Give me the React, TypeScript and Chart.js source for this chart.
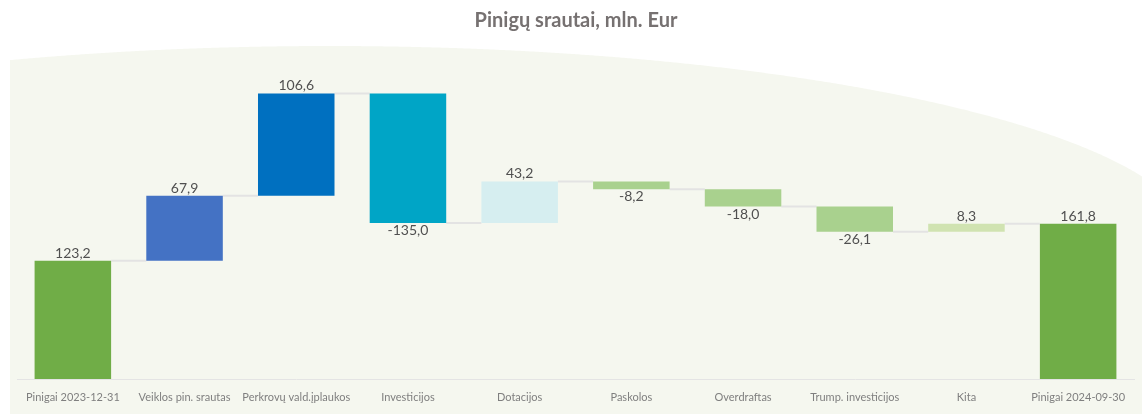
import React, { useEffect, useRef } from "react";
import { Chart, registerables } from "chart.js";

Chart.register(...registerables);

const chartTitle = "Pinigų srautai, mln. Eur";
const categories = [
  "Pinigai 2023-12-31",
  "Veiklos pin. srautas",
  "Perkrovų vald.įplaukos",
  "Investicijos",
  "Dotacijos",
  "Paskolos",
  "Overdraftas",
  "Trump. investicijos",
  "Kita",
  "Pinigai 2024-09-30",
];
const changes = [123.2, 67.9, 106.6, -135.0, 43.2, -8.2, -18.0, -26.1, 8.3, 161.8];
const isTotal = [true, false, false, false, false, false, false, false, false, true];
const barColors = [
  "#70ad47",
  "#4472c4",
  "#0070c0",
  "#00a5c6",
  "#d6eef0",
  "#a9d18e",
  "#a9d18e",
  "#a9d18e",
  "#d0e3b1",
  "#70ad47",
];

const FONT = "Lato, 'Open Sans', sans-serif";

function buildRanges() {
  let run = 0;
  const ranges: [number, number][] = [];
  const ends: number[] = [];
  changes.forEach((v, i) => {
    if (isTotal[i]) {
      ranges.push([0, v]);
      run = v;
    } else {
      ranges.push([run, run + v]);
      run += v;
    }
    ends.push(run);
  });
  return { ranges, ends };
}

const fmt = (v: number) => v.toFixed(1).replace(".", ",");

export default function App() {
  const canvasRef = useRef<HTMLCanvasElement | null>(null);

  useEffect(() => {
    document.body.style.margin = "0";
    const canvas = canvasRef.current;
    if (!canvas) return;
    const { ranges, ends } = buildRanges();

    const backgroundPlugin = {
      id: "bgShape",
      beforeDraw(chart: any) {
        const ctx = chart.ctx as CanvasRenderingContext2D;
        const w = chart.width;
        const h = chart.height;
        ctx.save();
        const yAt = (x: number) => {
          const u = (x - 330) / 865;
          return 245 - 199 * Math.sqrt(Math.max(0, 1 - u * u));
        };
        ctx.beginPath();
        ctx.moveTo(10, h);
        for (let x = 10; x <= w; x += 2) ctx.lineTo(x, yAt(x));
        ctx.lineTo(w, yAt(w));
        ctx.lineTo(w, h);
        ctx.closePath();
        ctx.fillStyle = "#f5f7ef";
        ctx.fill();
        ctx.font = `bold 20px ${FONT}`;
        ctx.fillStyle = "#767171";
        ctx.textAlign = "center";
        ctx.textBaseline = "alphabetic";
        ctx.fillText(chartTitle, 576, 27);
        ctx.restore();
      },
    };

    const connectorPlugin = {
      id: "connectors",
      beforeDatasetsDraw(chart: any) {
        const ctx = chart.ctx as CanvasRenderingContext2D;
        const meta = chart.getDatasetMeta(0);
        const yScale = chart.scales.y;
        ctx.save();
        ctx.strokeStyle = "#e3e3e3";
        ctx.lineWidth = 2;
        for (let i = 0; i < meta.data.length - 1; i++) {
          const a = meta.data[i];
          const b = meta.data[i + 1];
          const y = yScale.getPixelForValue(ends[i]);
          ctx.beginPath();
          ctx.moveTo(a.x + a.width / 2, y);
          ctx.lineTo(b.x - b.width / 2, y);
          ctx.stroke();
        }
        ctx.restore();
      },
    };

    const labelPlugin = {
      id: "valueLabels",
      afterDatasetsDraw(chart: any) {
        const ctx = chart.ctx as CanvasRenderingContext2D;
        const meta = chart.getDatasetMeta(0);
        ctx.save();
        ctx.font = `14px ${FONT}`;
        ctx.fillStyle = "#505050";
        ctx.textAlign = "center";
        ctx.textBaseline = "alphabetic";
        meta.data.forEach((el: any, i: number) => {
          const v = changes[i];
          const top = Math.min(el.y, el.base);
          const bottom = Math.max(el.y, el.base);
          if (v >= 0) {
            ctx.fillText(fmt(v), el.x, top - 3);
          } else {
            ctx.fillText(fmt(v), el.x, bottom + 12);
          }
        });
        ctx.restore();
      },
    };

    const chart = new Chart(canvas, {
      type: "bar",
      data: {
        labels: categories,
        datasets: [
          {
            data: ranges as any,
            backgroundColor: barColors,
            borderWidth: 0,
            categoryPercentage: 1,
            barPercentage: 0.685,
          },
        ],
      },
      options: {
        animation: false,
        responsive: true,
        maintainAspectRatio: false,
        layout: { padding: { top: 72, left: 17, right: 8, bottom: -2 } },
        plugins: {
          legend: { display: false },
          tooltip: { enabled: false },
          title: { display: false },
        },
        scales: {
          x: {
            z: 1,
            grid: { display: false, drawTicks: false },
            border: { display: true, color: "#e4e4e4", width: 1 },
            ticks: {
              color: "#7f7f7f",
              font: { family: FONT, size: 11, lineHeight: 1.0 },
              padding: 13,
              autoSkip: false,
              maxRotation: 0,
            },
          },
          y: {
            display: false,
            min: 0,
            max: 320,
          },
        },
      },
      plugins: [backgroundPlugin, connectorPlugin, labelPlugin],
    });

    return () => chart.destroy();
  }, []);

  return (
    <div style={{ position: "absolute", left: 0, top: 0, width: 1142, height: 414 }}>
      <canvas ref={canvasRef} />
    </div>
  );
}
